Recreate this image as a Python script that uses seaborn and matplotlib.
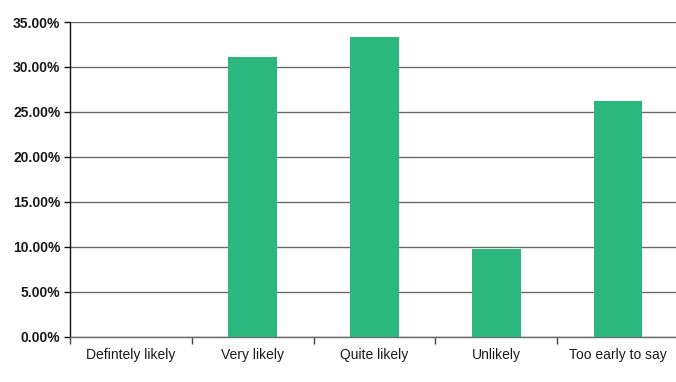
import matplotlib
matplotlib.use("Agg")
import matplotlib.pyplot as plt
import seaborn as sns
import pandas as pd
from matplotlib.ticker import PercentFormatter, FixedLocator, MultipleLocator

categories = ["Defintely likely", "Very likely", "Quite likely", "Unlikely", "Too early to say"]
shares = [0.0, 0.3115, 0.3335, 0.0974, 0.2620]

df = pd.DataFrame({"response": categories, "share": shares})

sns.set_theme(style="white")
plt.rcParams["font.family"] = ["Liberation Sans", "DejaVu Sans"]

fig = plt.figure(figsize=(6.76, 3.82), dpi=100)
ax = fig.add_axes([70 / 676, 1 - 336.5 / 382, 609 / 676, (336.5 - 22) / 382])

sns.barplot(data=df, x="response", y="share", color="#2bb77e", width=0.40,
            saturation=1, linewidth=0, edgecolor="none", ax=ax, zorder=3)

ax.set_xlim(-0.5, 4.5)
ax.set_ylim(0, 0.35)
ax.yaxis.set_major_locator(MultipleLocator(0.05))
ax.yaxis.set_major_formatter(PercentFormatter(1.0, decimals=2))
ax.grid(axis="y", color="#6b6b6b", linewidth=1.0, zorder=0)
ax.grid(axis="x", visible=False)
ax.set_xlabel("")
ax.set_ylabel("")

for side in ("top", "right"):
    ax.spines[side].set_visible(False)
ax.spines["left"].set_color("#111111")
ax.spines["left"].set_linewidth(1.0)
ax.spines["bottom"].set_color("#6b6b6b")
ax.spines["bottom"].set_linewidth(1.0)

ax.tick_params(axis="y", which="major", left=True, length=4, width=1,
               color="#111111", direction="out", labelsize=10, pad=3,
               labelcolor="#1a1a1a")
for lbl in ax.get_yticklabels():
    lbl.set_fontweight("bold")

# category labels without ticks, boundary ticks between categories
ax.tick_params(axis="x", which="major", bottom=False, length=0,
               labelsize=10, pad=8, labelcolor="#1a1a1a")
ax.xaxis.set_minor_locator(FixedLocator([i - 0.5 for i in range(len(categories) + 1)]))
ax.tick_params(axis="x", which="minor", bottom=True, length=5, width=1,
               color="#444444", direction="out")

fig.savefig("out.png", dpi=100)
